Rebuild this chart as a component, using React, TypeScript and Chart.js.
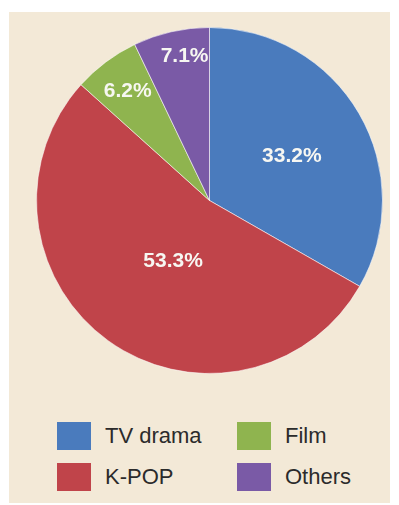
import React, { useEffect, useRef } from "react";
import { Chart, registerables } from "chart.js";

Chart.register(...registerables);

const categories = ["TV drama", "K-POP", "Film", "Others"];
const shares = [33.2, 53.3, 6.2, 7.1];
const valueLabels = ["33.2%", "53.3%", "6.2%", "7.1%"];

const sliceColors = ["#4a7bbd", "#c0444a", "#8fb44f", "#7a5aa6"];
const labelRadiusFraction = [0.54, 0.41, 0.79, 0.845];
const labelAngleOffsetDeg = [2, -5, 0, 3];
const legendOrder = [0, 2, 1, 3];

const BG = "#f3e9d7";

const labelPlugin = {
  id: "sliceLabels",
  afterDatasetsDraw(chart: any) {
    const ctx = chart.ctx;
    const meta = chart.getDatasetMeta(0);
    ctx.save();
    ctx.font = "bold 21px 'Liberation Sans', Arial, sans-serif";
    ctx.fillStyle = "#f7f7f2";
    ctx.textAlign = "center";
    ctx.textBaseline = "middle";
    meta.data.forEach((arc: any, i: number) => {
      const p = arc.getProps(["x", "y", "startAngle", "endAngle", "outerRadius"], true);
      const mid = (p.startAngle + p.endAngle) / 2 + (labelAngleOffsetDeg[i] * Math.PI) / 180;
      const r = p.outerRadius * labelRadiusFraction[i];
      ctx.fillText(valueLabels[i], p.x + Math.cos(mid) * r, p.y + Math.sin(mid) * r);
    });
    ctx.restore();
  },
};

export default function App() {
  const ref = useRef<HTMLCanvasElement | null>(null);

  useEffect(() => {
    if (!ref.current) return;
    const chart = new Chart(ref.current, {
      type: "pie",
      data: {
        labels: categories,
        datasets: [
          {
            data: shares,
            backgroundColor: sliceColors,
            borderColor: "rgba(255,255,255,0.55)",
            borderWidth: 1,
          },
        ],
      },
      options: {
        animation: false,
        responsive: false,
        maintainAspectRatio: false,
        layout: { padding: 0 },
        plugins: {
          legend: { display: false },
          tooltip: { enabled: false },
        },
      },
      plugins: [labelPlugin],
    });
    return () => chart.destroy();
  }, []);

  return (
    <div
      style={{
        position: "fixed",
        left: 9,
        top: 12,
        width: 381,
        height: 491,
        background: BG,
        fontFamily: "'Liberation Sans', Arial, sans-serif",
      }}
    >
      <canvas
        ref={ref}
        width={347}
        height={347}
        style={{ position: "absolute", left: 26.5, top: 14.5, width: 347, height: 347 }}
      />
      {legendOrder.map((idx, k) => {
        const col = k % 2;
        const row = Math.floor(k / 2);
        const left = col === 0 ? 48 : 228;
        const top = row === 0 ? 410 : 451;
        return (
          <div
            key={categories[idx]}
            style={{ position: "absolute", left, top, height: 28, display: "flex", alignItems: "center" }}
          >
            <div style={{ width: 34, height: 28, background: sliceColors[idx] }} />
            <span style={{ marginLeft: 14, fontSize: 22, color: "#2b2b2b", lineHeight: "28px" }}>
              {categories[idx]}
            </span>
          </div>
        );
      })}
    </div>
  );
}
